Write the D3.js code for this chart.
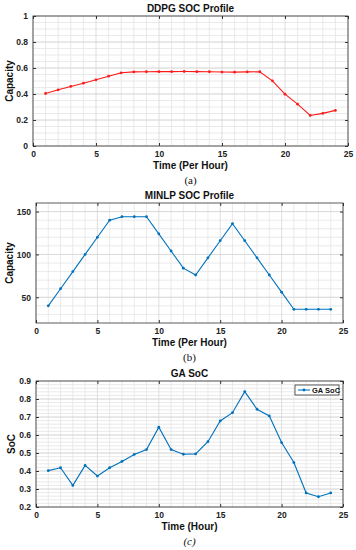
<!DOCTYPE html>
<html>
<head>
<meta charset="utf-8">
<script src="https://cdn.jsdelivr.net/npm/d3@7"></script>
<style>
  body { margin: 0; background: #fff; }
  text { font-family: "Liberation Sans", Arial, sans-serif; }
</style>
</head>
<body>
<div class="canvas"></div>
<script>
const hours = d3.range(1, 25);

const ddpgSoc = [0.404, 0.432, 0.458, 0.483, 0.509, 0.537, 0.563, 0.57, 0.571, 0.572,
  0.572, 0.573, 0.572, 0.571, 0.569, 0.568, 0.57, 0.571, 0.501, 0.399,
  0.322, 0.235, 0.251, 0.274];

const minlpSoc = [40, 60, 80, 100, 120, 140, 144, 144, 144, 124,
  104, 84, 76, 96, 116, 136, 116, 96, 76, 56,
  36, 36, 36, 36];

const gaSoc = [0.402, 0.418, 0.32, 0.431, 0.372, 0.418, 0.453, 0.492, 0.519, 0.643,
  0.519, 0.493, 0.495, 0.563, 0.678, 0.724, 0.841, 0.743, 0.706, 0.558,
  0.447, 0.278, 0.257, 0.278];

const xTicks = [0, 5, 10, 15, 20, 25];
const ddpgTicks = [0, 0.2, 0.4, 0.6, 0.8, 1];
const minlpTicks = [50, 100, 150];
const gaTicks = [0.2, 0.3, 0.4, 0.5, 0.6, 0.7, 0.8, 0.9];

const svg = d3.select(".canvas").append("svg").attr("width", 356).attr("height", 550);

function panel(o) {
  const x = d3.scaleLinear().domain([0, 25]).range([o.left, o.right]);
  const y = d3.scaleLinear().domain(o.yDomain).range([o.bottom, o.top]);
  const g = svg.append("g");

  // minor grid
  g.selectAll(".mx").data(d3.range(1, 25).filter((d) => d % 5 != 0)).enter()
    .append("line")
    .attr("x1", (d) => x(d)).attr("x2", (d) => x(d))
    .attr("y1", o.top).attr("y2", o.bottom)
    .attr("stroke", "#e4e4e4").attr("stroke-width", 0.8);
  g.selectAll(".my").data(o.minorY).enter()
    .append("line")
    .attr("x1", o.left).attr("x2", o.right)
    .attr("y1", (d) => y(d)).attr("y2", (d) => y(d))
    .attr("stroke", "#e4e4e4").attr("stroke-width", 0.8);
  // major grid
  g.selectAll(".gx").data(xTicks).enter()
    .append("line")
    .attr("x1", (d) => x(d)).attr("x2", (d) => x(d))
    .attr("y1", o.top).attr("y2", o.bottom)
    .attr("stroke", "#d6d6d6").attr("stroke-width", 0.8);
  g.selectAll(".gy").data(o.yTicks).enter()
    .append("line")
    .attr("x1", o.left).attr("x2", o.right)
    .attr("y1", (d) => y(d)).attr("y2", (d) => y(d))
    .attr("stroke", "#d6d6d6").attr("stroke-width", 0.8);

  // axes, ticks inward on all sides
  g.append("g").attr("transform", `translate(0,${o.bottom})`)
    .call(d3.axisBottom(x).tickValues(xTicks).tickSizeInner(-3).tickSizeOuter(0).tickPadding(5));
  g.append("g").attr("transform", `translate(0,${o.top})`)
    .call(d3.axisTop(x).tickValues(xTicks).tickSizeInner(-3).tickSizeOuter(0).tickFormat(""));
  g.append("g").attr("transform", `translate(${o.left},0)`)
    .call(d3.axisLeft(y).tickValues(o.yTicks).tickSizeInner(-3).tickSizeOuter(0).tickPadding(5).tickFormat(o.fmt));
  g.append("g").attr("transform", `translate(${o.right},0)`)
    .call(d3.axisRight(y).tickValues(o.yTicks).tickSizeInner(-3).tickSizeOuter(0).tickFormat(""));
  g.selectAll(".domain").remove();
  g.selectAll(".tick line").attr("stroke", "#333");
  g.selectAll(".tick text").attr("font-size", 8.5).attr("font-weight", "bold").attr("fill", "#222")
    .style("font-family", "'Liberation Sans', Arial, sans-serif");

  g.append("rect")
    .attr("x", o.left).attr("y", o.top)
    .attr("width", o.right - o.left).attr("height", o.bottom - o.top)
    .attr("fill", "none").attr("stroke", "#333").attr("stroke-width", 0.8);

  // line + markers
  const line = d3.line().x((d, i) => x(hours[i])).y((d) => y(d));
  g.append("path").datum(o.values)
    .attr("d", line).attr("fill", "none")
    .attr("stroke", o.color).attr("stroke-width", 1.1);
  g.selectAll(".pt").data(o.values).enter()
    .append("circle")
    .attr("cx", (d, i) => x(hours[i])).attr("cy", (d) => y(d))
    .attr("r", 1.4).attr("fill", o.color);

  // texts
  g.append("text")
    .attr("x", (o.left + o.right) / 2).attr("y", o.top - 4)
    .attr("text-anchor", "middle").attr("font-size", 10).attr("font-weight", "bold")
    .attr("fill", "#111").text(o.title);
  g.append("text")
    .attr("x", (o.left + o.right) / 2).attr("y", o.bottom + 23)
    .attr("text-anchor", "middle").attr("font-size", 10).attr("font-weight", "bold")
    .attr("fill", "#111").text(o.xLabel);
  g.append("text")
    .attr("transform", `translate(${o.yLabelX},${(o.top + o.bottom) / 2}) rotate(-90)`)
    .attr("text-anchor", "middle").attr("font-size", 10).attr("font-weight", "bold")
    .attr("fill", "#111").text(o.yLabel);
  g.append("text")
    .attr("x", (o.left + o.right) / 2).attr("y", o.bottom + 38)
    .attr("text-anchor", "middle").attr("font-size", 11)
    .style("font-family", "'Liberation Serif', 'Times New Roman', serif")
    .style("font-style", o.italic ? "italic" : "normal")
    .attr("fill", "#111").text(o.caption);

  return { g, x, y };
}

panel({
  left: 33, right: 348, top: 16, bottom: 146,
  yDomain: [0, 1], yTicks: ddpgTicks, minorY: d3.range(0.05, 1, 0.05),
  fmt: (d) => (d === 0 || d === 1 ? d : d.toFixed(1)),
  values: ddpgSoc, color: "#ff1a1a",
  title: "DDPG SOC Profile", xLabel: "Time (Per Hour)", yLabel: "Capacity", yLabelX: 13,
  caption: "(a)"
});

panel({
  left: 36, right: 343, top: 203, bottom: 323,
  yDomain: [20, 160], yTicks: minlpTicks, minorY: d3.range(30, 160, 10),
  fmt: (d) => d,
  values: minlpSoc, color: "#0072bd",
  title: "MINLP SOC Profile", xLabel: "Time (Per Hour)", yLabel: "Capacity", yLabelX: 13,
  caption: "(b)"
});

const c = panel({
  left: 36, right: 343, top: 381, bottom: 507,
  yDomain: [0.2, 0.9], yTicks: gaTicks, minorY: d3.range(0.22, 0.9, 0.02),
  fmt: (d) => d.toFixed(1),
  values: gaSoc, color: "#0072bd",
  title: "GA SoC", xLabel: "Time (Hour)", yLabel: "SoC", yLabelX: 15,
  caption: "(c)", italic: true
});

// legend
const lg = c.g.append("g").attr("transform", "translate(295,385)");
lg.append("rect").attr("width", 44).attr("height", 10)
  .attr("fill", "#fff").attr("stroke", "#333").attr("stroke-width", 0.8);
lg.append("line").attr("x1", 3).attr("x2", 15).attr("y1", 5).attr("y2", 5)
  .attr("stroke", "#0072bd").attr("stroke-width", 1.1);
lg.append("circle").attr("cx", 9).attr("cy", 5).attr("r", 1.4).attr("fill", "#0072bd");
lg.append("text").attr("x", 17).attr("y", 8).attr("font-size", 7.5)
  .attr("font-weight", "bold").attr("fill", "#111").text("GA SoC");
</script>
</body>
</html>
